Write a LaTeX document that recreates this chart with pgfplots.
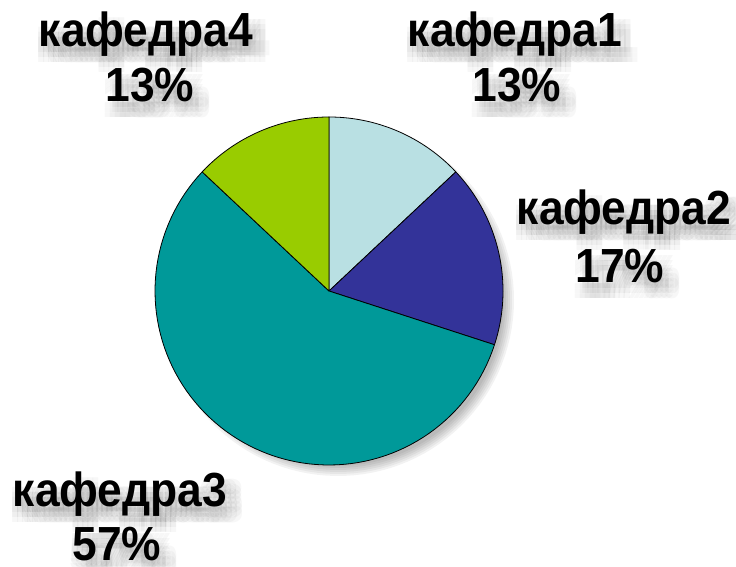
\documentclass[border=0pt]{standalone}
\usepackage{pgfplots}
\pgfplotsset{compat=1.18}
\usepackage{fontspec}
\setmainfont{Liberation Sans}
\definecolor{cA}{HTML}{B9E0E3}
\definecolor{cB}{HTML}{333399}
\definecolor{cC}{HTML}{009999}
\definecolor{cD}{HTML}{99CC00}
% #1 cumulative percent before, #2 percent, #3 colour
\newcommand{\pieslice}[3]{%
  \pgfmathsetmacro\sa{90-3.6*(#1)}%
  \pgfmathsetmacro\sb{90-3.6*(#1+#2)}%
  \addplot[fill=#3, draw=black, line width=0.8pt, line join=round, domain=\sa:\sb, samples=90, variable=\t]
    ({329+174*cos(\t)},{276+174*sin(\t)}) -- (axis cs:329,276) -- cycle;
}
\newcommand{\lblfont}{\fontsize{44.5}{50}\selectfont\bfseries}
\newcommand{\lbl}[3]{% x, baseline y (bp), text
  \foreach \dx in {-6,-1,4,9,14} {\foreach \dy in {-7,-2,3} {
    \node[anchor=base, text=black, opacity=0.03, inner sep=0pt, yscale=1.08] at (#1bp+\dx bp+3bp, #2bp+\dy bp-9bp) {\lblfont #3};
  }}
  \node[anchor=base, inner sep=0pt, yscale=1.08] at (#1bp,#2bp) {\lblfont #3};
}
\begin{document}
\begin{tikzpicture}
\begin{axis}[hide axis, scale only axis, width=736bp, height=567bp,
  xmin=0, xmax=736, ymin=0, ymax=567, clip=false]
% soft shadow of the pie
\pgfplotsinvokeforeach{0,2,4,6,8,10}{
  \addplot[fill=black, fill opacity=0.05, draw=none, domain=0:360, samples=120]
    ({338+(166+#1)*cos(x)},{267+(166+#1)*sin(x)});
}
\pieslice{0}{13}{cA}
\pieslice{13}{17}{cB}
\pieslice{30}{57}{cC}
\pieslice{87}{13}{cD}
\end{axis}
\lbl{146}{520}{кафедра4}
\lbl{150}{465}{13\%}
\lbl{515}{520}{кафедра1}
\lbl{517}{465}{13\%}
\lbl{624}{342}{кафедра2}
\lbl{620}{284}{17\%}
\lbl{120}{60}{кафедра3}
\lbl{117}{7}{57\%}
\pgfresetboundingbox
\useasboundingbox (0,0) rectangle (736bp,567bp);
\end{tikzpicture}
\end{document}
